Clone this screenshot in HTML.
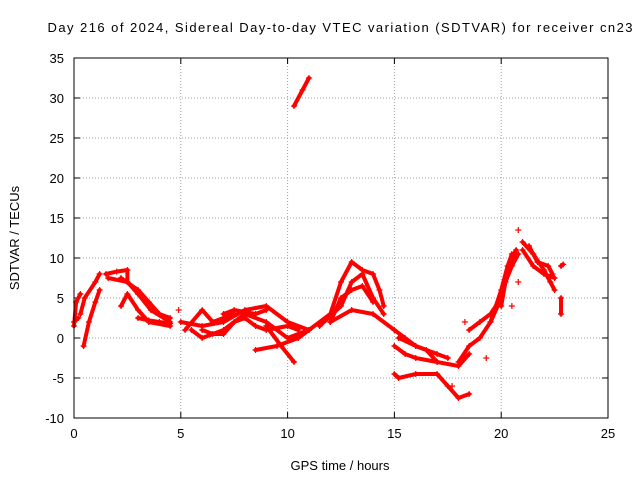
<!DOCTYPE html>
<html><head><meta charset="utf-8"><style>
html,body{margin:0;padding:0;background:#fff;}
svg text{font-family:"Liberation Sans",sans-serif;font-size:13px;fill:#000;}
</style></head><body>
<svg id="chart" width="640" height="480" viewBox="0 0 640 480" xmlns="http://www.w3.org/2000/svg">
<rect width="640" height="480" fill="#fff"/>
<text x="340" y="32" text-anchor="middle" textLength="585">Day 216 of 2024, Sidereal Day-to-day VTEC variation (SDTVAR) for receiver cn23</text>
<g id="grid"></g>
<g id="ticks"></g>
<g id="marks"></g>
<rect x="74" y="58" width="534" height="360" fill="none" stroke="#000" stroke-width="1"/>
<text x="340" y="470" text-anchor="middle">GPS time / hours</text>
<text transform="translate(19,238) rotate(-90)" text-anchor="middle">SDTVAR / TECUs</text>
</svg>
<script>
const xTicks = [0,5,10,15,20,25];
const yTicks = [-10,-5,0,5,10,15,20,25,30,35];
const tracks = [
 [[0,1.5],[0.1,4.5],[0.3,5.5]],
 [[0,2],[0.2,2.5]],
 [[0.45,-1],[0.7,2],[1,4.5],[1.2,6]],
 [[0.3,3],[0.5,5],[1,7],[1.2,8]],
 [[1.5,8],[2,8.3],[2.5,8.5],[2.5,7]],
 [[1.6,7.5],[2.5,7],[3,5.5],[3.6,3.5],[4.5,2]],
 [[2.2,7.5],[3,6],[3.5,4.5],[4,3],[4.5,2.5]],
 [[2.2,4],[2.5,5.5],[3,3.5],[3.5,2],[4.5,1.5]],
 [[3,2.5],[3.5,2.2],[4,2],[4.5,1.8]],
 [[5,2],[6,1.5],[7,2],[8,3.5],[9,4],[10,2],[11,1]],
 [[5.5,1],[6,0],[7,1],[8,3],[9,2],[10,0],[11,1]],
 [[5.2,1],[6,3.5],[6.5,2],[7.5,3]],
 [[6,1],[6.5,0.5],[7,0.5],[7.5,2],[8,2.5],[8.5,1.5],[9,1],[10,1.5],[10.5,1]],
 [[7,3],[7.5,3.5],[8.5,3],[9,3.5]],
 [[8.5,-1.5],[9.5,-1],[10.5,0],[11,1]],
 [[9,1.5],[9.7,-1],[10.3,-3]],
 [[10.3,29],[10.7,31],[11,32.5]],
 [[11,1],[12,3],[12.5,7],[13,9.5],[13.5,8.5],[14,8],[14.3,6],[14.5,4]],
 [[11.5,1.5],[12.5,4],[13,7],[13.5,8],[14,5],[14.5,3]],
 [[12,2],[12.5,5],[13,6],[13.5,6.5],[14,4.5]],
 [[12,2],[13,3.5],[14,3],[15,1]],
 [[15,1],[15.5,0],[16,-1],[17,-2],[17.5,-2.5]],
 [[15,-4.5],[15.2,-5],[16,-4.5],[17,-4.5],[17.5,-6],[18,-7.5],[18.5,-7]],
 [[15,-1],[15.5,-2],[16,-2.5],[17,-3],[18,-3.5],[18.5,-2]],
 [[15.2,0],[16,-1],[16.5,-1.5],[17,-3]],
 [[18,-3],[18.5,-1],[19,0],[19.5,2],[20,5],[20.5,10],[20.7,11]],
 [[19.5,2],[20,6],[20.3,9],[20.5,10.5]],
 [[18.5,1],[19,2],[19.5,3],[20,5]],
 [[20,4],[20.2,7],[20.5,9],[20.8,10.5]],
 [[21,12],[21.5,10.5],[22,8.5],[22.3,7],[22.5,6]],
 [[21,11],[21.5,9],[22,8],[22.5,7.5]],
 [[21.3,11.5],[21.7,9.5],[22.2,9],[22.4,8]],
 [[22.8,9],[22.9,9.2]],
 [[22.8,5],[22.8,3]]
];
const isolated = [[20.8,13.5],[20.5,4],[20.8,7],[17.7,-6],[18.3,2],[19.3,-2.5],[4.9,3.5]];
const X0=74,X1=608,Y0=418,Y1=58;
function sx(v){return X0+(v-0)/(25-0)*(X1-X0);}
function sy(v){return Y0-(v+10)/(45)*(Y0-Y1);}
const NS="http://www.w3.org/2000/svg";
const grid=document.getElementById('grid'),ticks=document.getElementById('ticks'),marks=document.getElementById('marks');
function mk(t,a,p){const e=document.createElementNS(NS,t);for(const k in a)e.setAttribute(k,a[k]);p.appendChild(e);return e;}
xTicks.forEach(v=>{const x=sx(v);
 if(v>0&&v<25){const g=mk('line',{x1:x,y1:Y0,x2:x,y2:Y1,stroke:'#a0a0a0','stroke-dasharray':'1,2'},grid);
 
 }
 mk('line',{x1:x,y1:Y0,x2:x,y2:Y0-6,stroke:'#000'},ticks);mk('line',{x1:x,y1:Y1,x2:x,y2:Y1+6,stroke:'#000'},ticks);
 const t=mk('text',{x:x,y:Y0+20,'text-anchor':'middle'},ticks);t.textContent=v;
 
 });
yTicks.forEach(v=>{const y=sy(v);
 if(v>-10&&v<35){const g=mk('line',{x1:X0,y1:y,x2:X1,y2:y,stroke:'#a0a0a0','stroke-dasharray':'1,2'},grid);
 
 }
 mk('line',{x1:X0,y1:y,x2:X0+6,y2:y,stroke:'#000'},ticks);mk('line',{x1:X1,y1:y,x2:X1-6,y2:y,stroke:'#000'},ticks);
 const t=mk('text',{x:X0-10,y:y+5,'text-anchor':'end'},ticks);t.textContent=v;
 
 });
function plus(x,y){mk('path',{d:`M${x-3} ${y}H${x+3}M${x} ${y-3}V${y+3}`,stroke:'#f00','stroke-width':1.2},marks);}
tracks.forEach(tr=>{
 const pl=mk('polyline',{points:tr.map(p=>sx(p[0])+','+sy(p[1])).join(' '),fill:'none',stroke:'#f00','stroke-width':4,'stroke-linejoin':'round','stroke-linecap':'round'},marks);
 
 
 tr.forEach(p=>plus(sx(p[0]),sy(p[1])));
});
isolated.forEach(p=>plus(sx(p[0]),sy(p[1])));
</script>
</body></html>
